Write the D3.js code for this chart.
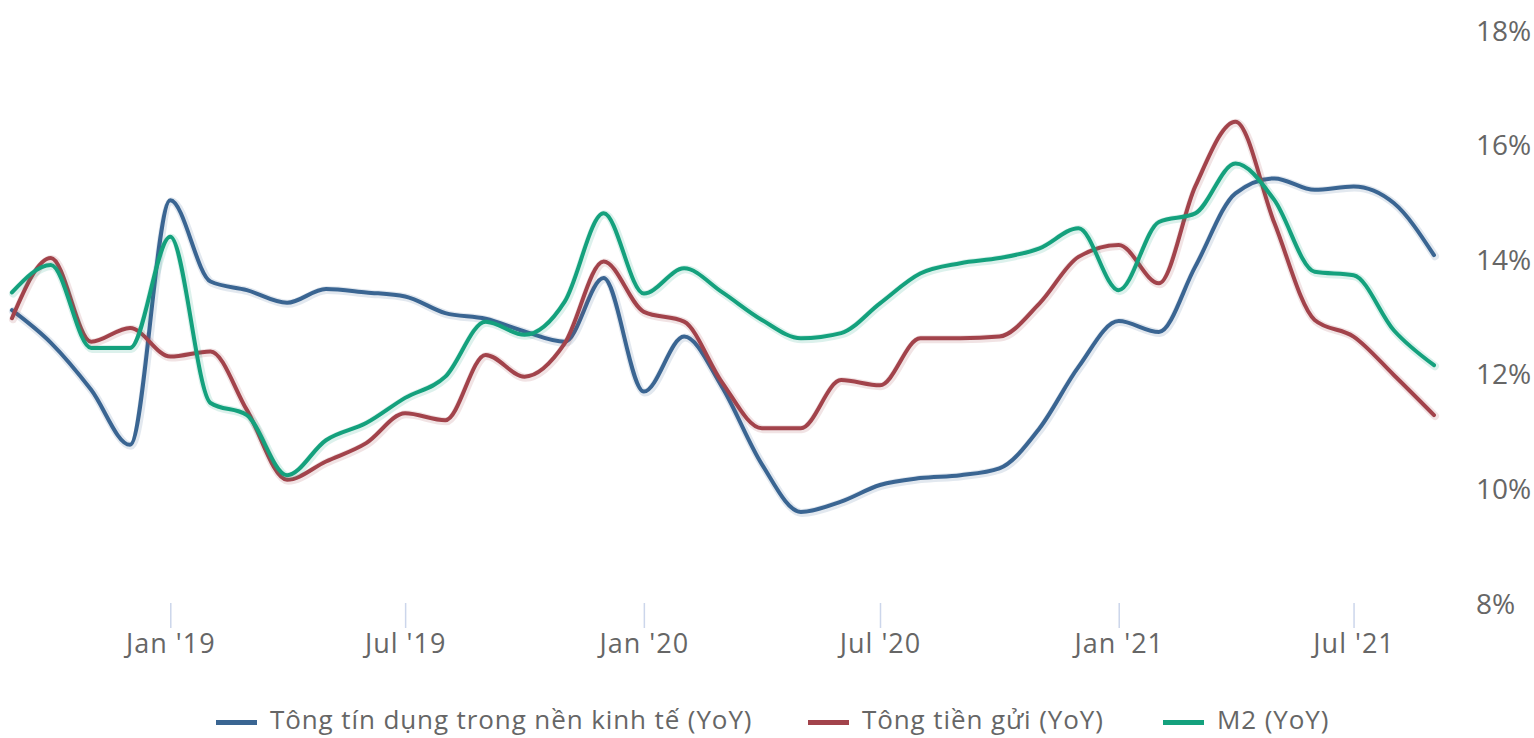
<!DOCTYPE html>
<html>
<head>
<meta charset="utf-8">
<script src="https://cdn.jsdelivr.net/npm/d3@7"></script>
<style>
  html, body { margin: 0; padding: 0; background: #ffffff; }
  svg { display: block; }
  text { font-family: "Open Sans", "Noto Sans", "DejaVu Sans", sans-serif; }
</style>
</head>
<body>
<svg id="chart" width="1534" height="738"></svg>
<script>
// Monthly observations, Sep 2018 – Sep 2021 (year-on-year growth, %)
const months = [
  "2018-09", "2018-10", "2018-11", "2018-12",
  "2019-01", "2019-02", "2019-03", "2019-04", "2019-05", "2019-06",
  "2019-07", "2019-08", "2019-09", "2019-10", "2019-11", "2019-12",
  "2020-01", "2020-02", "2020-03", "2020-04", "2020-05", "2020-06",
  "2020-07", "2020-08", "2020-09", "2020-10", "2020-11", "2020-12",
  "2021-01", "2021-02", "2021-03", "2021-04", "2021-05", "2021-06",
  "2021-07", "2021-08", "2021-09"
];

const creditGrowth = [
  13.11, 12.54, 11.72, 10.76,
  15.03, 13.61, 13.46, 13.24, 13.48, 13.42,
  13.35, 13.06, 12.96, 12.74, 12.56, 13.67,
  11.69, 12.65, 11.78, 10.42, 9.59, 9.77,
  10.06, 10.18, 10.23, 10.35, 11.05, 12.12,
  12.92, 12.73, 13.87, 15.15, 15.41, 15.21,
  15.27, 14.98, 14.07
];

const depositGrowth = [
  12.97, 14.02, 12.56, 12.80,
  12.30, 12.39, 11.37, 10.15, 10.47, 10.79,
  11.31, 11.19, 12.33, 11.95, 12.53, 13.96,
  13.08, 12.91, 11.86, 11.05, 11.05, 11.89,
  11.80, 12.62, 12.62, 12.65, 13.23, 14.04,
  14.25, 13.58, 15.27, 16.40, 14.63, 12.94,
  12.65, 11.98, 11.28
];

const m2Growth = [
  13.42, 13.90, 12.45, 12.45,
  14.39, 11.49, 11.28, 10.23, 10.84, 11.14,
  11.58, 11.95, 12.91, 12.68, 13.26, 14.80,
  13.40, 13.84, 13.43, 12.94, 12.62, 12.71,
  13.23, 13.75, 13.93, 14.02, 14.19, 14.54,
  13.46, 14.65, 14.80, 15.67, 15.03, 13.78,
  13.72, 12.76, 12.15
];

const seriesNames = [
  "Tông tín dụng trong nền kinh tế (YoY)",
  "Tông tiền gửi (YoY)",
  "M2 (YoY)"
];
const seriesColors = ["#3a6592", "#a2434b", "#14a17d"];

const xTickDates = ["2019-01", "2019-07", "2020-01", "2020-07", "2021-01", "2021-07"];
const yTickValues = [8, 10, 12, 14, 16, 18];

// ---- build ----
const parseMonth = d3.timeParse("%Y-%m");
const dates = months.map(parseMonth);
const seriesValues = [creditGrowth, depositGrowth, m2Growth];
const series = seriesNames.map((name, i) => ({
  name,
  color: seriesColors[i],
  points: dates.map((d, j) => ({ date: d, value: seriesValues[i][j] }))
}));

const svg = d3.select("#chart");
const plot = { left: 12, right: 1434, top: 30, bottom: 603 };

const x = d3.scaleTime()
  .domain([dates[0], dates[dates.length - 1]])
  .range([plot.left, plot.right]);

const y = d3.scaleLinear()
  .domain([8, 18])
  .range([plot.bottom, plot.top]);

// x axis: tick marks below the plot, no baseline
const xAxis = d3.axisBottom(x)
  .tickValues(xTickDates.map(parseMonth))
  .tickSize(25)
  .tickPadding(24)
  .tickFormat(d3.timeFormat("%b '%y"));

const gx = svg.append("g")
  .attr("transform", `translate(0,${plot.bottom})`)
  .call(xAxis);
gx.select(".domain").remove();
gx.selectAll(".tick line")
  .attr("stroke", "#ccd6eb")
  .attr("stroke-width", 1.5);
gx.selectAll(".tick text")
  .attr("fill", "#666666")
  .attr("dy", null)
  .attr("y", 50)
  .style("font-size", "27px")
  .style("letter-spacing", "1px");

// y axis on the right, labels only
const yAxis = d3.axisRight(y)
  .tickValues(yTickValues)
  .tickSize(0)
  .tickPadding(0)
  .tickFormat(d => d + "%");

const gy = svg.append("g")
  .attr("transform", "translate(1476,0)")
  .call(yAxis);
gy.select(".domain").remove();
gy.selectAll(".tick text")
  .attr("fill", "#666666")
  .attr("dy", "0.36em")
  .style("font-size", "28px");

// lines
const line = d3.line()
  .x(d => x(d.date))
  .y(d => y(d.value))
  .curve(d3.curveMonotoneX);

const lines = svg.append("g");
series.forEach(s => {
  // soft halo under each line
  lines.append("path")
    .datum(s.points)
    .attr("d", line)
    .attr("fill", "none")
    .attr("stroke", s.color)
    .attr("stroke-opacity", 0.15)
    .attr("stroke-width", 8)
    .attr("stroke-linejoin", "round")
    .attr("stroke-linecap", "round")
    .attr("transform", "translate(1,1)");
  lines.append("path")
    .datum(s.points)
    .attr("d", line)
    .attr("fill", "none")
    .attr("stroke", s.color)
    .attr("stroke-width", 4)
    .attr("stroke-linejoin", "round")
    .attr("stroke-linecap", "round");
});

// legend along the bottom edge
const legendX = [216, 808, 1163];
const legend = svg.append("g");
series.forEach((s, i) => {
  const g = legend.append("g").attr("transform", `translate(${legendX[i]},0)`);
  g.append("rect")
    .attr("x", 0)
    .attr("y", 720)
    .attr("width", 41)
    .attr("height", 5)
    .attr("fill", s.color);
  g.append("text")
    .attr("x", 54)
    .attr("y", 729)
    .attr("fill", "#666666")
    .style("font-size", "26px")
    .style("letter-spacing", "0.9px")
    .text(s.name);
});
</script>
</body>
</html>
